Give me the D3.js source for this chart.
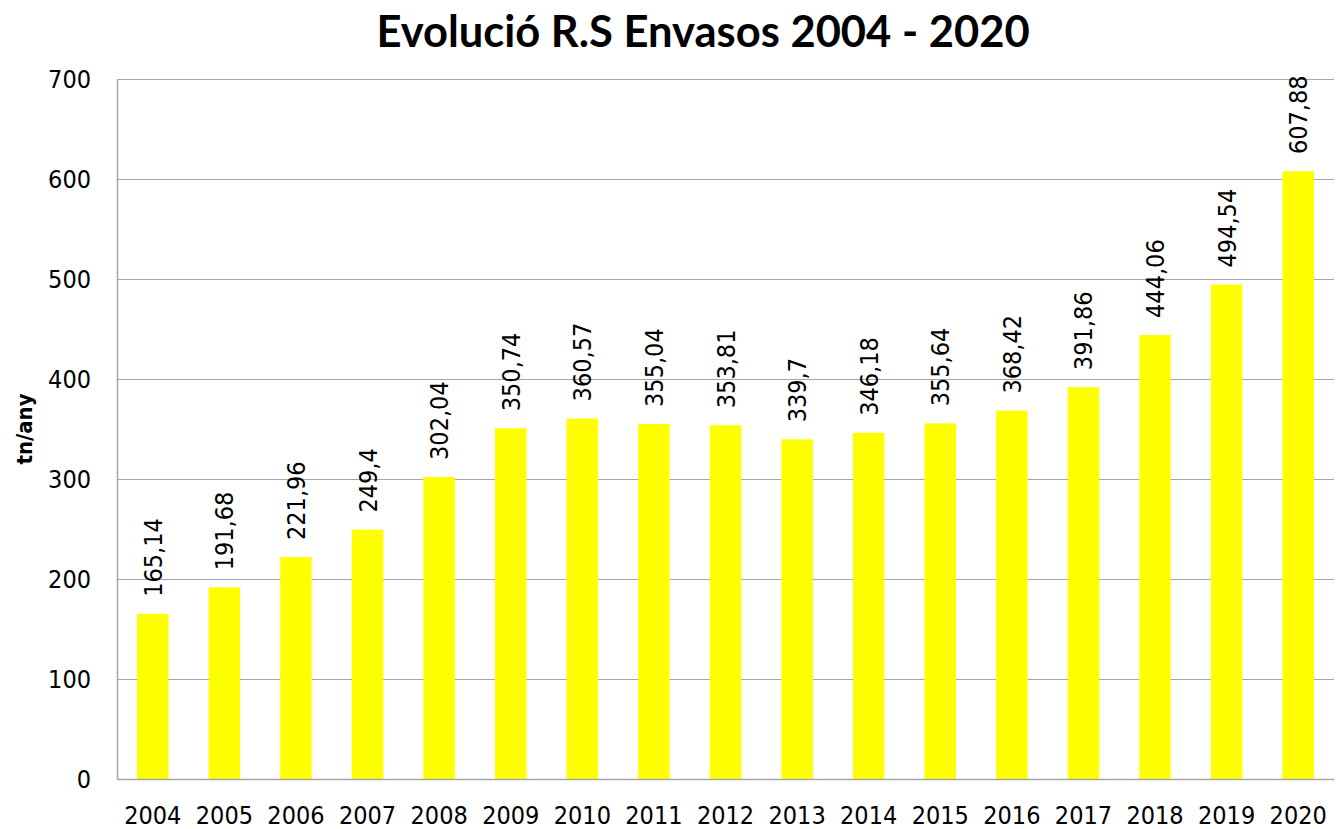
<!DOCTYPE html>
<html>
<head>
<meta charset="utf-8">
<script src="https://cdn.jsdelivr.net/npm/d3@7"></script>
<style>
  body { margin: 0; background: #fff; }
  text { font-family: "DejaVu Sans Condensed", "DejaVu Sans", sans-serif; fill: #000; }
</style>
</head>
<body>
<div id="chart"></div>
<script>
// Chart data
var years = ["2004", "2005", "2006", "2007", "2008", "2009", "2010", "2011", "2012",
             "2013", "2014", "2015", "2016", "2017", "2018", "2019", "2020"];
var tonnes = [165.14, 191.68, 221.96, 249.4, 302.04, 350.74, 360.57, 355.04, 353.81,
              339.7, 346.18, 355.64, 368.42, 391.86, 444.06, 494.54, 607.88];
var yTicks = [0, 100, 200, 300, 400, 500, 600, 700];

var W = 1337, H = 829;
var margin = {top: 79, right: 3, bottom: 50, left: 117};
var width = W - margin.left - margin.right,
    height = H - margin.top - margin.bottom;

var svg = d3.select("#chart").append("svg")
    .attr("width", W)
    .attr("height", H);

var g = svg.append("g")
    .attr("transform", "translate(" + margin.left + "," + margin.top + ")");

// Scales
var x = d3.scaleBand()
    .domain(years)
    .range([0, width])
    .paddingInner(0.56)
    .paddingOuter(0.28);

var y = d3.scaleLinear()
    .domain([0, 700])
    .range([height, 0]);

// Gridlines
g.selectAll(".grid")
    .data(yTicks.slice(1))
    .enter().append("line")
    .attr("class", "grid")
    .attr("x1", 0)
    .attr("x2", width)
    .attr("y1", function(d) { return Math.round(y(d)) + 0.5; })
    .attr("y2", function(d) { return Math.round(y(d)) + 0.5; })
    .attr("stroke", "#a6a6a6")
    .attr("stroke-width", 1);

// Bars
g.selectAll(".bar")
    .data(tonnes)
    .enter().append("rect")
    .attr("class", "bar")
    .attr("x", function(d, i) { return x(years[i]); })
    .attr("y", function(d) { return y(d); })
    .attr("width", x.bandwidth())
    .attr("height", function(d) { return height - y(d); })
    .attr("fill", "#ffff00");

// Axes
var yAxis = d3.axisLeft(y).tickValues(yTicks).tickSize(0).tickPadding(26);
g.append("g")
    .attr("class", "axis y-axis")
    .call(yAxis)
    .call(function(s) {
      s.select(".domain").attr("stroke", "#a6a6a6").attr("stroke-width", 1.5);
      s.selectAll("text").style("font-size", "25px").style("font-family", null);
    });

var xAxis = d3.axisBottom(x).tickSize(0).tickPadding(27);
g.append("g")
    .attr("class", "axis x-axis")
    .attr("transform", "translate(0," + height + ")")
    .call(xAxis)
    .call(function(s) {
      s.select(".domain").attr("stroke", "#a6a6a6").attr("stroke-width", 1.5);
      s.selectAll("text").style("font-size", "25px").style("font-family", null);
    });

// Value labels (rotated)
var fmt = function(d) { return String(d).replace(".", ","); };
g.selectAll(".value")
    .data(tonnes)
    .enter().append("text")
    .attr("class", "value")
    .attr("transform", function(d, i) {
      return "translate(" + (x(years[i]) + x.bandwidth() / 2) + "," + (y(d) - 17) + ")rotate(-90)";
    })
    .attr("dy", "0.36em")
    .style("font-size", "25px")
    .text(fmt);

// Y axis title
svg.append("text")
    .attr("text-anchor", "middle")
    .attr("transform", "translate(32," + (margin.top + height / 2) + ")rotate(-90)")
    .style("font-size", "22px")
    .style("font-weight", "bold")
    .text("tn/any");

// Title
svg.append("text")
    .attr("x", 703)
    .attr("y", 47)
    .attr("text-anchor", "middle")
    .style("font-family", "Lato, 'Open Sans', sans-serif")
    .style("font-size", "43.5px")
    .style("font-weight", "bold")
    .text("Evolució R.S Envasos 2004 - 2020");
</script>
</body>
</html>
